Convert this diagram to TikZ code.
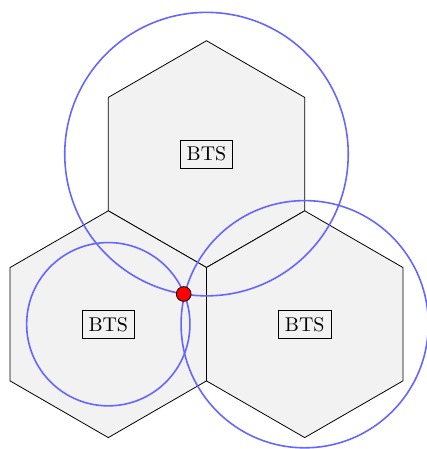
\documentclass[tikz,border=0pt]{standalone}
\usepackage{tikz}

\begin{document}
\begin{tikzpicture}[line cap=round,
  cell/.style={draw=black,fill=gray!10},
  coverage/.style={blue!60,thick},
  bts/.style={draw,fill=gray!10,inner sep=3.3pt}]
\useasboundingbox (-3.642,-5.201) rectangle (3.889,2.718);
\coordinate (c1) at (0,0);
\coordinate (c2) at (-1.732,-3);
\coordinate (c3) at (1.732,-3);
\coordinate (ms) at (-0.402,-2.467);
% cells
\foreach \c in {c1,c2,c3}
  \draw[cell,shift={(\c)}] (90:2) -- (150:2) -- (210:2) -- (270:2) -- (330:2) -- (30:2) -- cycle;
\node[bts] (b1) at (c1) {BTS};
\node[bts] (b2) at (c2) {BTS};
\node[bts] (b3) at (c3) {BTS};
% coverage circles
\draw[coverage] (c1) circle (2.5);
\draw[coverage] (c2) circle (1.44);
\draw[coverage] (c3) circle (2.18);
\fill[red,draw=black] (ms) circle (0.13);
\end{tikzpicture}
\end{document}
